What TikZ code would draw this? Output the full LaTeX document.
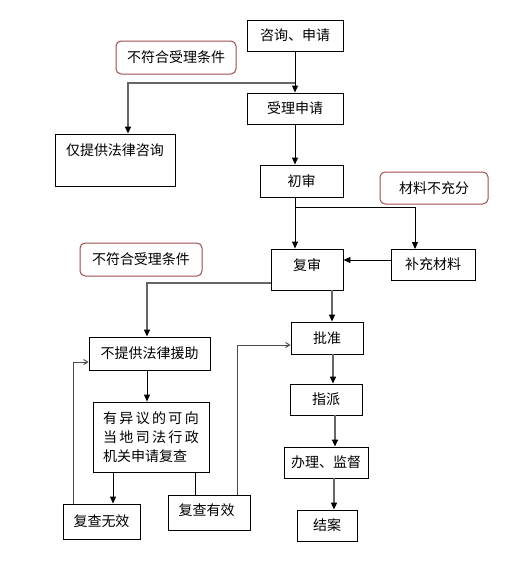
\documentclass[tikz,border=0pt]{standalone}
\usepackage{fontspec}
\setmainfont{Noto Sans CJK SC}
\usetikzlibrary{arrows.meta}
\begin{document}
\begin{tikzpicture}[x=1pt,y=-1pt,
  box/.style={draw=black,line width=0.9pt,inner sep=0pt,font=\fontsize{14}{19}\selectfont},
  note/.style={draw=red!45!black!70,line width=1pt,rounded corners=5pt,inner sep=0pt,font=\fontsize{14}{19}\selectfont},
  blk/.style={draw=black,line width=0.9pt},
  gry/.style={draw=black!60,line width=1.4pt},
  tip/.style={-{Triangle[width=6pt,length=7pt,color=black]}},
  thin/.style={-{Straight Barb[width=5pt,length=4pt]},draw=black!70,line width=1pt}]
\useasboundingbox[fill=white] (0,0) rectangle (520,571);
% nodes
\node[box,minimum width=96pt,minimum height=31pt] (ask) at (295,35.5) {咨询、申请};
\node[note,minimum width=120pt,minimum height=33pt] (nq1) at (176,57.5) {不符合受理条件};
\node[box,minimum width=96pt,minimum height=31pt] (accept) at (295,108.5) {受理申请};
\node[box,minimum width=120pt,minimum height=52pt] (consult) at (115,160) {};
\node[font=\fontsize{14}{19}\selectfont] (consultT) at (115,150) {仅提供法律咨询};
\node[box,minimum width=83pt,minimum height=32pt] (init) at (301.5,181) {初审};
\node[note,minimum width=108pt,minimum height=32pt] (insuff) at (434,188) {材料不充分};
\node[box,minimum width=72pt,minimum height=41pt] (review) at (307,269.5) {};
\node[font=\fontsize{14}{19}\selectfont] (reviewT) at (307,265) {复审};
\node[box,minimum width=84pt,minimum height=31pt] (supp) at (433,264.5) {补充材料};
\node[note,minimum width=122pt,minimum height=33pt] (nq2) at (141,259.5) {不符合受理条件};
\node[box,minimum width=121pt,minimum height=33pt] (noaid) at (149.5,353.5) {不提供法律援助};
\node[box,minimum width=72pt,minimum height=32pt] (approve) at (327,338) {批准};
\node[box,minimum width=72pt,minimum height=31pt] (assign) at (326,399.5) {指派};
\node[box,minimum width=84pt,minimum height=31pt] (handle) at (326,462.5) {办理、监督};
\node[box,minimum width=60pt,minimum height=31pt] (close) at (327,525.5) {结案};
\node[box,minimum width=116pt,minimum height=70pt,align=left] (obj) at (151,437) {有\,异\,议\,的\,可\,向\\当\,地\,司\,法\,行\,政\\机关申请复查};
\node[box,minimum width=77pt,minimum height=35pt] (invalid) at (101.5,521.5) {复查无效};
\node[box,minimum width=82pt,minimum height=35pt] (valid) at (209,512.5) {};
\node[font=\fontsize{14}{19}\selectfont] (validT) at (206.5,510) {复查有效};
% coordinates
\coordinate (b1) at (295,83);
\coordinate (b2) at (295,207);
\coordinate (sIn) at (415,249);
\coordinate (rOut) at (271,283);
\coordinate (vUp) at (237,345);
\coordinate (iUp) at (73,362);
% connectors
\draw[blk,tip] (ask.south) -- (accept.north);
\draw[gry,tip] (b1) -| (consult.north -| 128,0);
\draw[blk,tip] (accept.south) -- (accept.south |- init.north);
\draw[blk,tip] (accept.south |- init.south) -- (accept.south |- review.north);
\draw[blk,tip] (b2) -| (sIn);
\draw[blk,tip] (supp.west |- 0,260) -- (review.east |- 0,260);
\draw[gry,tip] (rOut) -| (noaid.north -| 147,0);
\draw[gry,tip] (review.south -| 332,0) -- (approve.north -| 332,0);
\draw[gry,tip] (approve.south -| 333,0) -- (assign.north -| 333,0);
\draw[gry,tip] (assign.south -| 335,0) -- (handle.north -| 335,0);
\draw[gry,tip] (handle.south -| 334,0) -- (close.north -| 334,0);
\draw[blk,tip] (noaid.south -| 147,0) -- (obj.north -| 147,0);
\draw[blk,tip] (obj.south -| 113,0) -- (invalid.north -| 113,0);
\draw[blk] (obj.south -| 195,0) -- (valid.north -| 195,0);
\draw[gry,thin] (valid.north -| vUp) |- (approve.west |- vUp);
\draw[gry,thin] (invalid.north -| iUp) |- (noaid.west |- iUp);
\end{tikzpicture}
\end{document}
